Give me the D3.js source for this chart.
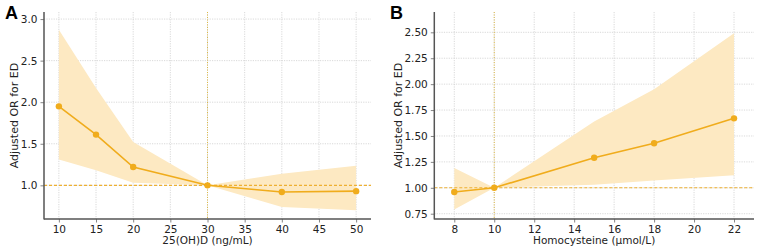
<!DOCTYPE html>
<html>
<head>
<meta charset="utf-8">
<script src="https://cdn.jsdelivr.net/npm/d3@7"></script>
<style>
  body { margin: 0; background: #fff; }
  text { font-family: "DejaVu Sans", sans-serif; }
</style>
</head>
<body>
<div id="chart"></div>
<script>
'use strict';

// Panel A: 25(OH)D
const vitDX = [10, 15, 20, 30, 40, 50];
const vitDOR = [1.95, 1.61, 1.22, 1.0, 0.92, 0.93];
const vitDLow = [1.31, 1.18, 1.03, 1.0, 0.74, 0.70];
const vitDHigh = [2.87, 2.17, 1.52, 1.0, 1.14, 1.235];
const vitDXTicks = [10, 15, 20, 25, 30, 35, 40, 45, 50];
const vitDYTicks = [1.0, 1.5, 2.0, 2.5, 3.0];

// Panel B: Homocysteine
const hcyX = [8, 10, 15, 18, 22];
const hcyOR = [0.96, 1.0, 1.29, 1.43, 1.67];
const hcyLow = [0.79, 1.0, 1.03, 1.07, 1.12];
const hcyHigh = [1.19, 1.0, 1.64, 1.95, 2.49];
const hcyXTicks = [8, 10, 12, 14, 16, 18, 20, 22];
const hcyYTicks = [0.75, 1.0, 1.25, 1.5, 1.75, 2.0, 2.25, 2.5];

const W = 767, H = 250;
const lineColor = '#f0ac1c';
const bandColor = '#fde9c2';

const svg = d3.select('#chart').append('svg')
    .attr('width', W)
    .attr('height', H);

function drawPanel(opt) {
    const x = d3.scaleLinear().domain(opt.xDomain).range([opt.left, opt.right]);
    const y = d3.scaleLinear().domain(opt.yDomain).range([opt.bottom, opt.top]);
    const g = svg.append('g');

    // grid
    g.append('g').selectAll('line').data(opt.xTicks).join('line')
        .attr('x1', d => x(d)).attr('x2', d => x(d))
        .attr('y1', opt.top).attr('y2', opt.bottom)
        .attr('stroke', '#cfcfcf').attr('stroke-width', 0.8)
        .attr('stroke-dasharray', '1.2,1.2');
    g.append('g').selectAll('line').data(opt.yTicks).join('line')
        .attr('x1', opt.left).attr('x2', opt.right)
        .attr('y1', d => y(d)).attr('y2', d => y(d))
        .attr('stroke', '#cfcfcf').attr('stroke-width', 0.8)
        .attr('stroke-dasharray', '1.2,1.2');

    // confidence band
    const idx = d3.range(opt.xs.length);
    const area = d3.area()
        .x(i => x(opt.xs[i]))
        .y0(i => y(opt.low[i]))
        .y1(i => y(opt.high[i]));
    g.append('path').datum(idx)
        .attr('d', area)
        .attr('fill', bandColor);

    // reference lines
    g.append('line')
        .attr('x1', opt.left).attr('x2', opt.right)
        .attr('y1', y(1)).attr('y2', y(1))
        .attr('stroke', '#eeb031').attr('stroke-width', 1.1)
        .attr('stroke-dasharray', '3,2');
    g.append('line')
        .attr('x1', x(opt.refX)).attr('x2', x(opt.refX))
        .attr('y1', opt.top).attr('y2', opt.bottom)
        .attr('stroke', '#dcb844').attr('stroke-width', 1)
        .attr('stroke-dasharray', '1,1.5');

    // line + points
    const line = d3.line()
        .x(i => x(opt.xs[i]))
        .y(i => y(opt.or[i]));
    g.append('path').datum(idx)
        .attr('d', line)
        .attr('fill', 'none')
        .attr('stroke', lineColor)
        .attr('stroke-width', 1.6);
    g.append('g').selectAll('circle').data(idx).join('circle')
        .attr('cx', i => x(opt.xs[i]))
        .attr('cy', i => y(opt.or[i]))
        .attr('r', 3.2)
        .attr('fill', lineColor);

    // axes
    const xAxis = d3.axisBottom(x).tickValues(opt.xTicks).tickSize(3.5).tickPadding(3)
        .tickFormat(d3.format('d'));
    const yAxis = d3.axisLeft(y).tickValues(opt.yTicks).tickSize(3.5).tickPadding(3)
        .tickFormat(d3.format(opt.yFmt));
    const ax = g.append('g').attr('transform', `translate(0,${opt.bottom})`).call(xAxis);
    const ay = g.append('g').attr('transform', `translate(${opt.left},0)`).call(yAxis);
    [ax, ay].forEach(a => {
        a.select('.domain').remove();
        a.selectAll('line').attr('stroke', '#666').attr('stroke-width', 0.8);
        a.selectAll('text').attr('fill', '#222').style('font-size', '10.5px')
            .style('font-family', '"DejaVu Sans", sans-serif');
    });
    // spines
    g.append('line')
        .attr('x1', opt.left).attr('x2', opt.left)
        .attr('y1', opt.top).attr('y2', opt.bottom + 0.5)
        .attr('stroke', '#555').attr('stroke-width', 1.5);
    g.append('line')
        .attr('x1', opt.left).attr('x2', opt.right)
        .attr('y1', opt.bottom).attr('y2', opt.bottom)
        .attr('stroke', '#555').attr('stroke-width', 1.5);

    // labels
    g.append('text')
        .attr('x', (opt.left + opt.right) / 2)
        .attr('y', 244)
        .attr('text-anchor', 'middle')
        .attr('fill', '#222')
        .style('font-size', '10.5px')
        .text(opt.xLabel);
    g.append('text')
        .attr('transform', `translate(${opt.yLabelX},${(opt.top + opt.bottom) / 2}) rotate(-90)`)
        .attr('text-anchor', 'middle')
        .attr('fill', '#222')
        .style('font-size', '11px')
        .text('Adjusted OR for ED');
    g.append('text')
        .attr('x', opt.letterX)
        .attr('y', 19)
        .attr('fill', '#000')
        .style('font-family', '"Liberation Sans", Arial, sans-serif')
        .style('font-size', '18px')
        .style('font-weight', 'bold')
        .text(opt.letter);
}

drawPanel({
    xs: vitDX, or: vitDOR, low: vitDLow, high: vitDHigh,
    xTicks: vitDXTicks, yTicks: vitDYTicks, yFmt: '.1f',
    xDomain: [8, 52], yDomain: [0.595, 3.085],
    left: 44, right: 371, top: 12, bottom: 219,
    refX: 30, xLabel: '25(OH)D (ng/mL)', yLabelX: 18,
    letter: 'A', letterX: 5
});

drawPanel({
    xs: hcyX, or: hcyOR, low: hcyLow, high: hcyHigh,
    xTicks: hcyXTicks, yTicks: hcyYTicks, yFmt: '.2f',
    xDomain: [7, 23], yDomain: [0.699, 2.696],
    left: 434.3, right: 754, top: 12, bottom: 219,
    refX: 10, xLabel: 'Homocysteine (µmol/L)', yLabelX: 402,
    letter: 'B', letterX: 390
});
</script>
</body>
</html>
